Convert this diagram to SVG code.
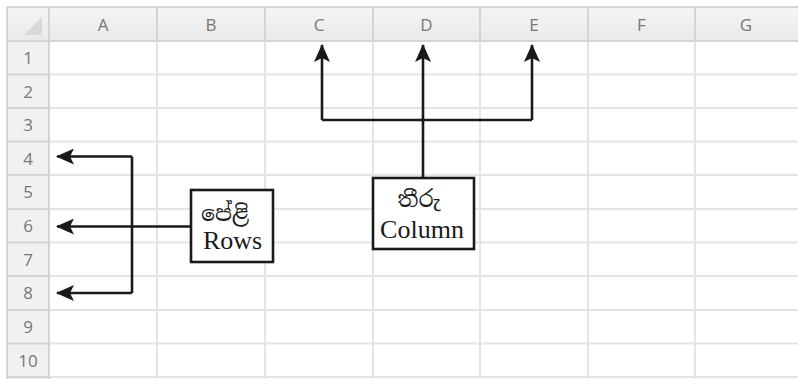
<svg xmlns="http://www.w3.org/2000/svg" width="798" height="379" viewBox="0 0 798 379">
  <defs>
    <linearGradient id="hdr" x1="0" y1="0" x2="0" y2="1">
      <stop offset="0" stop-color="#f5f5f5"/>
      <stop offset="1" stop-color="#e9e9e9"/>
    </linearGradient>
    <marker id="arrow" viewBox="0 0 18 16" refX="17" refY="8" markerWidth="18" markerHeight="16" markerUnits="userSpaceOnUse" orient="auto">
      <path d="M0,0 L18,8 L0,16 L4,8 Z" fill="#1a1a1a"/>
    </marker>
  </defs>
  <style>
    .grid { stroke: #e4e4e4; stroke-width: 2; fill: none; }
    .hline { stroke: #d4d4d4; stroke-width: 2; fill: none; }
    .hdr { font-family: "Open Sans", "Liberation Sans", sans-serif; font-size: 17px; fill: #777777; text-anchor: middle; }
    .wire { stroke: #1a1a1a; stroke-width: 2.6; fill: none; }
    .box { fill: #ffffff; stroke: #1a1a1a; stroke-width: 2.6; }
    .lbl { font-family: "Liberation Serif", serif; font-size: 26px; fill: #1a1a1a; text-anchor: middle; }
    .si { font-family: "Noto Serif Sinhala", "Noto Sans Sinhala", "Iskoola Pota", "Liberation Serif", serif; font-size: 22px; fill: #1a1a1a; text-anchor: middle; }
  </style>

  <rect width="798" height="379" fill="#ffffff"/>

  <!-- sheet frame: column header strip and row header strip -->
  <g id="sheet">
    <rect x="7" y="7" width="791" height="34" fill="url(#hdr)"/>
    <rect x="7" y="41" width="42" height="338" fill="#f1f1f1"/>
    <path d="M42,17 L42,35 L24,35 Z" fill="#d9d9d9"/>

    <!-- cell grid -->
    <g class="grid">
      <path d="M49,74.5H798 M49,108H798 M49,141.5H798 M49,175H798 M49,209H798 M49,242.5H798 M49,276H798 M49,310H798 M49,343.5H798 M49,377H798"/>
      <path d="M157,41V379 M265,41V379 M373,41V379 M480,41V379 M588,41V379 M695,41V379"/>
    </g>
    <!-- header separators -->
    <g class="hline">
      <path d="M7,7H798 M7,7V379 M7,41H798 M49,7V379"/>
      <path d="M157,7V41 M265,7V41 M373,7V41 M480,7V41 M588,7V41 M695,7V41"/>
      <path d="M7,74.5H49 M7,108H49 M7,141.5H49 M7,175H49 M7,209H49 M7,242.5H49 M7,276H49 M7,310H49 M7,343.5H49 M7,377H49"/>
    </g>

    <!-- column letters -->
    <g class="hdr">
      <text x="103" y="31">A</text>
      <text x="211" y="31">B</text>
      <text x="319" y="31">C</text>
      <text x="426.5" y="31">D</text>
      <text x="534" y="31">E</text>
      <text x="641.5" y="31">F</text>
      <text x="746" y="31">G</text>
    </g>
    <!-- row numbers -->
    <g class="hdr">
      <text x="28" y="64">1</text>
      <text x="28" y="97.5">2</text>
      <text x="28" y="131">3</text>
      <text x="28" y="164.5">4</text>
      <text x="28" y="198">5</text>
      <text x="28" y="232">6</text>
      <text x="28" y="265.5">7</text>
      <text x="28" y="299">8</text>
      <text x="28" y="333">9</text>
      <text x="28" y="366.5">10</text>
    </g>
  </g>

  <!-- connectors -->
  <g id="connectors">
    <path class="wire" d="M423,178 V120" />
    <path class="wire" d="M322,120 H532" />
    <path class="wire" d="M322,120 V45" marker-end="url(#arrow)"/>
    <path class="wire" d="M423,120 V45" marker-end="url(#arrow)"/>
    <path class="wire" d="M532,120 V45" marker-end="url(#arrow)"/>

    <path class="wire" d="M132,156.5 V293" />
    <path class="wire" d="M132,156.5 H57" marker-end="url(#arrow)"/>
    <path class="wire" d="M191,226.5 H57" marker-end="url(#arrow)"/>
    <path class="wire" d="M132,293 H57" marker-end="url(#arrow)"/>
  </g>

  <!-- label boxes -->
  <g id="rows-node">
    <rect class="box" x="191" y="190" width="82" height="72"/>
    <text class="si" x="225" y="221">පේළි</text>
    <text class="lbl" x="232.5" y="249">Rows</text>
  </g>
  <g id="column-node">
    <rect class="box" x="373" y="178" width="101" height="71"/>
    <text class="si" x="419" y="207">තීරු</text>
    <text class="lbl" x="422" y="238">Column</text>
  </g>
</svg>
